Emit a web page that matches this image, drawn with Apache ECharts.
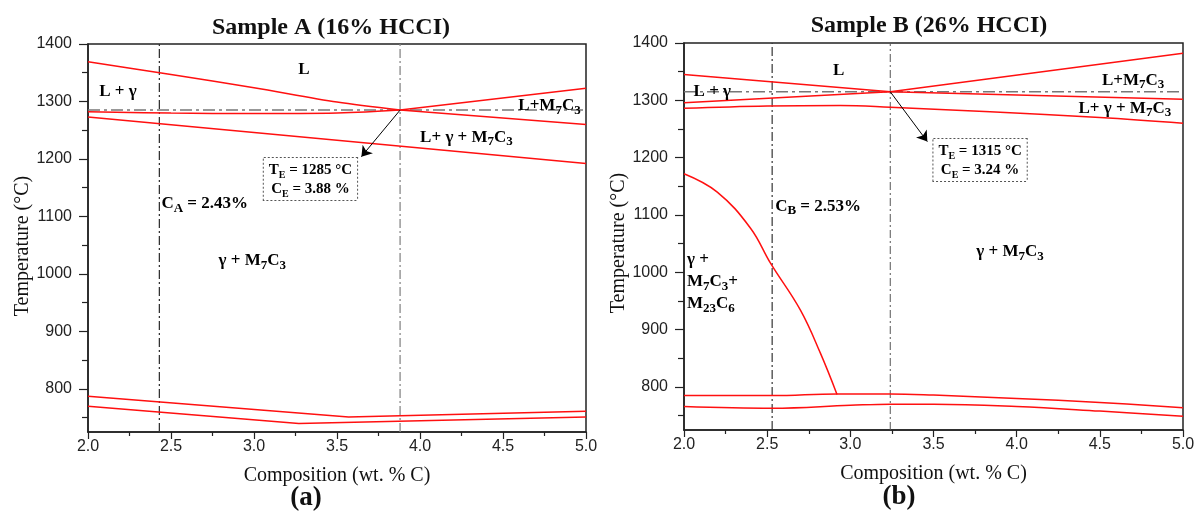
<!DOCTYPE html>
<html><head><meta charset="utf-8">
<script src="https://cdn.jsdelivr.net/npm/echarts@6/dist/echarts.min.js"></script>
<style>html,body{margin:0;padding:0;background:#fff}#c{width:1199px;height:527px}</style>
</head><body><div id="c"></div>
<script>
// ---------- tick labels ----------
const yTicks = [800, 900, 1000, 1100, 1200, 1300, 1400];
const yMinorTicks = [750, 850, 950, 1050, 1150, 1250, 1350];

// ---------- Sample A (16% HCCI) ----------
const aLiquidusGamma = [[2.0, 1369], [2.5, 1347], [3.0, 1324], [3.5, 1299], [3.88, 1285]];
const aLiquidusCarbide = [[3.88, 1285], [5.0, 1323]];
const aCarbideLower = [[3.88, 1285], [5.0, 1260]];
const aGammaLower = [[2.0, 1282], [2.5, 1280], [3.0, 1279], [3.5, 1280], [3.88, 1285]];
const aSolidus = [[2.0, 1273], [5.0, 1192]];
const aLow1 = [[2.0, 787], [3.57, 751], [5.0, 761]];
const aLow2 = [[2.0, 770], [3.27, 740], [5.0, 751]];
const aComp = 2.43, aEutC = 3.88, aEutT = 1285;
const aArrowTip = [3.647, 1204];
const aLabels = [
  [3.30, 1355, 'L'],
  [2.18, 1318, 'L + γ'],
  [4.78, 1292, 'L+M{s|7}C{s|3}'],
  [4.28, 1238, 'L+ γ + M{s|7}C{s|3}'],
  [2.99, 1023, 'γ + M{s|7}C{s|3}']
];
const aCompLabel = [2.43, 1122, 'C{s|A} = 2.43%'];
const aBox = [3.34, 1165, '{b|T}{e|E}{b| = 1285 °C}\n{b|C}{e|E}{b| = 3.88 %}'];

// ---------- Sample B (26% HCCI) ----------
const bUpper = [[2.0, 1345], [3.24, 1315], [5.0, 1302]];
const bLower = [[2.0, 1296], [3.24, 1315], [5.0, 1382]];
const bSolidus = [[2.0, 1286], [2.5, 1290], [2.94, 1291], [3.24, 1288], [3.84, 1280], [4.5, 1270], [5.0, 1260]];
const bM23 = [[2.0, 1172], [2.2, 1140], [2.4, 1077], [2.52, 1016], [2.7, 934], [2.82, 859], [2.92, 787]];
const bLow1 = [[2.0, 785], [2.53, 785], [2.92, 788], [3.24, 788], [3.5, 786], [4.0, 780], [4.5, 773], [5.0, 764]];
const bLow2 = [[2.0, 766], [2.53, 763], [3.0, 768], [3.24, 770], [3.5, 770], [4.0, 766], [4.5, 758], [5.0, 749]];
const bComp = 2.53, bEutC = 3.24, bEutT = 1315;
const bArrowTip = [3.463, 1228];
const bLabels = [
  [2.93, 1351, 'L'],
  [2.17, 1316, 'L + γ'],
  [4.70, 1335, 'L+M{s|7}C{s|3}'],
  [4.65, 1286, 'L+ γ + M{s|7}C{s|3}'],
  [3.96, 1036, 'γ + M{s|7}C{s|3}']
];
const bCompLabel = [2.53, 1115, 'C{s|B} = 2.53%'];
const bMixLabel = [2.0, 983, 'γ +\nM{s|7}C{s|3}+\nM{s|23}C{s|6}'];
const bBox = [3.78, 1196, '{b|T}{e|E}{b| = 1315 °C}\n{b|C}{e|E}{b| = 3.24 %}'];

const Y_MIN = 725, Y_MAX = 1400;
const SERIF = '"Liberation Serif", "DejaVu Serif", serif';
const SANS = '"Liberation Sans", Arial, sans-serif';

const richSub = {
  s: { fontSize: 13, fontWeight: 'bold', fontFamily: SERIF, color: '#000', verticalAlign: 'bottom', lineHeight: 10 },
  b: { fontSize: 15, fontWeight: 'bold', fontFamily: SERIF, color: '#000', lineHeight: 19 },
  e: { fontSize: 10, fontWeight: 'bold', fontFamily: SERIF, color: '#000', verticalAlign: 'bottom', lineHeight: 8 }
};

function redLine(data, gi, smooth) {
  return { type: 'line', xAxisIndex: gi, yAxisIndex: gi * 2, data: data, showSymbol: false, smooth: smooth || false,
    lineStyle: { color: '#ff1010', width: 1.5 }, z: 3, silent: true };
}
function refLine(data, gi, color, width, dash) {
  return { type: 'line', xAxisIndex: gi, yAxisIndex: gi * 2, data: data, showSymbol: false,
    lineStyle: { color: color, width: width, type: dash }, z: 2, silent: true };
}
function textSeries(items, gi) {
  return { type: 'scatter', xAxisIndex: gi, yAxisIndex: gi * 2, symbolSize: 0, itemStyle: { color: '#000' },
    z: 6, silent: true, data: items };
}
function labelItem(l, position, distance, extra) {
  return Object.assign({ value: [l[0], l[1]], label: Object.assign({
    show: true, position: position || 'inside', distance: distance || 0, formatter: l[2], opacity: 1,
    fontFamily: SERIF, fontWeight: 'bold', fontSize: 17, color: '#000', lineHeight: 22, rich: richSub
  }, extra || {}) });
}
function boxItem(l) {
  return { value: [l[0], l[1]], label: { show: true, position: 'inside', formatter: l[2], rich: richSub, opacity: 1,
    backgroundColor: '#fff', borderColor: '#555', borderWidth: 1, borderType: 'dotted', padding: [3, 5, 1, 5],
    align: 'center', verticalAlign: 'middle', lineHeight: 19 } };
}
function arrow(from, to, gi) {
  return { type: 'lines', coordinateSystem: 'cartesian2d', xAxisIndex: gi, yAxisIndex: gi * 2,
    symbol: ['none', 'arrow'], symbolSize: 10, z: 5, silent: true,
    lineStyle: { color: '#000', width: 1, opacity: 1 }, data: [{ coords: [from, to] }] };
}

function xAxis(gi) {
  return { type: 'value', gridIndex: gi, min: 2, max: 5, interval: 0.5,
    name: 'Composition (wt. % C)', nameLocation: 'middle', nameGap: 34,
    nameTextStyle: { fontFamily: SERIF, fontSize: 20, color: '#111' },
    axisLine: { show: true, lineStyle: { color: '#222', width: 1.5 } },
    axisTick: { show: true, length: 7, lineStyle: { color: '#222', width: 1.2 } },
    minorTick: { show: true, splitNumber: 2, length: 4, lineStyle: { color: '#222', width: 1.2 } },
    axisLabel: { formatter: v => v.toFixed(1), fontFamily: SANS, fontSize: 16, color: '#222', margin: 7 },
    splitLine: { show: false } };
}
function yAxes(gi, shift) {
  return [
    { type: 'value', gridIndex: gi, min: Y_MIN, max: Y_MAX, position: 'left',
      name: 'Temperature (°C)', nameLocation: 'middle', nameGap: 54,
      nameTextStyle: { fontFamily: SERIF, fontSize: 20, color: '#111', padding: [0, shift, 0, 0] },
      axisLine: { show: true, lineStyle: { color: '#222', width: 1.5 } },
      axisTick: { show: true, length: 9, customValues: yTicks, lineStyle: { color: '#222', width: 1.2 } },
      axisLabel: { customValues: yTicks, formatter: v => String(v), fontFamily: SANS, fontSize: 16, color: '#222', margin: 16 },
      splitLine: { show: false } },
    { type: 'value', gridIndex: gi, min: Y_MIN, max: Y_MAX, position: 'left',
      axisLine: { show: false },
      axisTick: { show: true, length: 6, customValues: yMinorTicks, lineStyle: { color: '#222', width: 1.2 } },
      axisLabel: { show: false }, splitLine: { show: false } }
  ];
}

const series = [
  // Sample A
  refLine([[2.0, aEutT], [5.0, aEutT]], 0, '#777', 1.5, [12, 4, 3, 4]),
  refLine([[aComp, Y_MIN], [aComp, Y_MAX]], 0, '#333', 1.3, [9, 3, 2, 3]),
  refLine([[aEutC, Y_MIN], [aEutC, Y_MAX]], 0, '#888', 1.3, [9, 3, 2, 3]),
  redLine(aLiquidusGamma, 0, 0.3),
  redLine(aLiquidusCarbide, 0),
  redLine(aCarbideLower, 0),
  redLine(aGammaLower, 0, 0.4),
  redLine(aSolidus, 0),
  redLine(aLow1, 0),
  redLine(aLow2, 0),
  arrow([aEutC, aEutT], aArrowTip, 0),
  textSeries(aLabels.map(l => labelItem(l)).concat([
    labelItem(aCompLabel, 'right', 2),
    boxItem(aBox)
  ]), 0),
  // Sample B
  refLine([[2.0, bEutT], [5.0, bEutT]], 1, '#777', 1.5, [12, 4, 3, 4]),
  refLine([[bComp, Y_MIN], [bComp, Y_MAX]], 1, '#333', 1.2, [9, 3, 2, 3]),
  refLine([[bEutC, Y_MIN], [bEutC, Y_MAX]], 1, '#555', 1, [8, 3, 2, 3]),
  redLine(bUpper, 1),
  redLine(bLower, 1),
  redLine(bSolidus, 1, 0.4),
  redLine(bM23, 1, 0.4),
  redLine(bLow1, 1, 0.4),
  redLine(bLow2, 1, 0.4),
  arrow([bEutC, bEutT], bArrowTip, 1),
  textSeries(bLabels.map(l => labelItem(l)).concat([
    labelItem(bCompLabel, 'right', 3),
    labelItem(bMixLabel, 'right', 3, { align: 'left' }),
    boxItem(bBox)
  ]), 1)
];

const chart = echarts.init(document.getElementById('c'), null, { renderer: 'canvas' });
chart.setOption({
  animation: false,
  backgroundColor: '#fff',
  grid: [
    { left: 88, right: 613, top: 44, bottom: 95, show: true, borderColor: '#222', borderWidth: 1.5, containLabel: false },
    { left: 684, right: 16, top: 43, bottom: 97, show: true, borderColor: '#222', borderWidth: 1.5, containLabel: false }
  ],
  xAxis: [xAxis(0), xAxis(1)],
  yAxis: yAxes(0, 16).concat(yAxes(1, 13)),
  graphic: [
    { type: 'text', x: 331, y: 28, style: { text: 'Sample A (16% HCCI)', font: 'bold 24px ' + SERIF, fill: '#111', textAlign: 'center', textVerticalAlign: 'middle' } },
    { type: 'text', x: 929, y: 26, style: { text: 'Sample B (26% HCCI)', font: 'bold 24px ' + SERIF, fill: '#111', textAlign: 'center', textVerticalAlign: 'middle' } },
    { type: 'text', x: 306, y: 498, style: { text: '(a)', font: 'bold 27px ' + SERIF, fill: '#111', textAlign: 'center', textVerticalAlign: 'middle' } },
    { type: 'text', x: 899, y: 497, style: { text: '(b)', font: 'bold 27px ' + SERIF, fill: '#111', textAlign: 'center', textVerticalAlign: 'middle' } }
  ],
  series: series
});
</script></body></html>
